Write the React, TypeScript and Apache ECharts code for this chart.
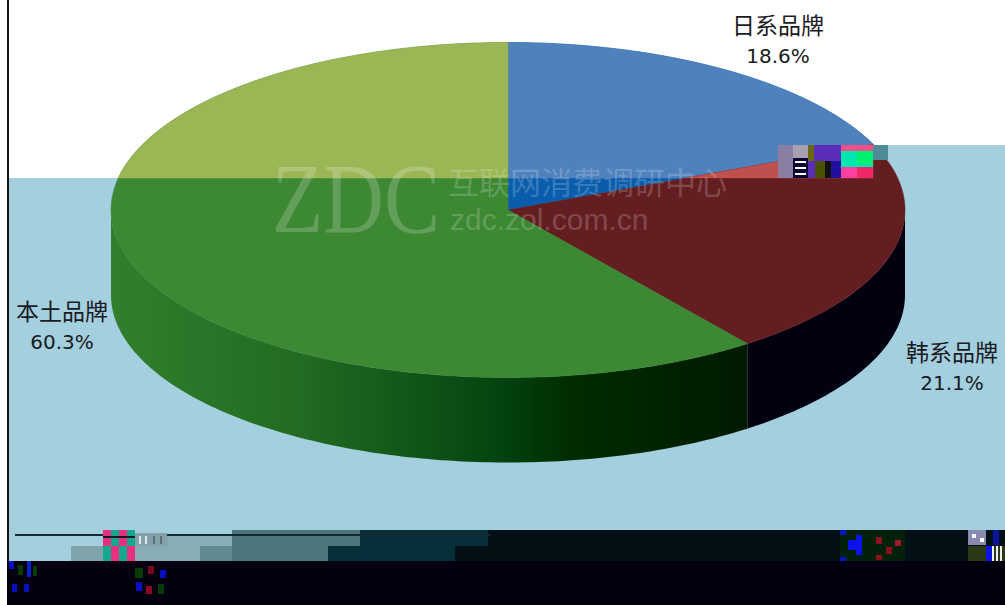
import React, { useEffect, useRef } from "react";
import * as echarts from "echarts";

const categories = ["日系品牌", "韩系品牌", "本土品牌"];
const shares = [18.6, 21.1, 60.3];
const lightColors = ["#4f81bd", "#c0504d", "#9bb655"];
const darkColors = ["#0a5cac", "#641e22", "#3c8833"];

const labelCentres = [[778, 24], [952, 351], [62, 310]];
const CX = 508, CY = 210, RX = 397, RY = 167.5, DEPTH = 85;
const BAND_Y = 178, BAND_X = 873;

const GREEN_WALL = [
  [0, "#317f2d"], [0.3, "#226b22"], [0.5, "#0f5216"], [0.62, "#03420f"], [0.72, "#002c00"], [1, "#001a00"],
];
const RED_WALL = "#03000f";

type P = [number, number];
const clip = (pts: P[], inside: (p: P) => boolean, cross: (a: P, b: P) => P): P[] => {
  const out: P[] = [];
  pts.forEach((p, i) => {
    const q = pts[(i + 1) % pts.length];
    const a = inside(p), b = inside(q);
    if (a) out.push(p);
    if (a !== b) out.push(cross(p, q));
  });
  return out;
};
const clipY = (pts: P[], y: number) =>
  clip(pts, (p) => p[1] <= y, (a, b) => [a[0] + ((y - a[1]) / (b[1] - a[1])) * (b[0] - a[0]), y]);
const clipX = (pts: P[], x: number) =>
  clip(pts, (p) => p[0] <= x, (a, b) => [x, a[1] + ((x - a[0]) / (b[0] - a[0])) * (b[1] - a[1])]);

const onEllipse = (deg: number, dy = 0): P => {
  const r = (deg * Math.PI) / 180;
  return [CX + RX * Math.cos(r), CY - RY * Math.sin(r) + dy];
};
const arc = (from: number, to: number, dy = 0): P[] => {
  const n = Math.max(2, Math.ceil(Math.abs(from - to)));
  const pts: P[] = [];
  for (let i = 0; i <= n; i++) pts.push(onEllipse(from + ((to - from) * i) / n, dy));
  return pts;
};

const renderItem = (params: any, api: any) => {
  const i = params.dataIndex;
  const total = shares.reduce((a, b) => a + b, 0);
  const before = shares.slice(0, i).reduce((a, b) => a + b, 0);
  const start = 90 - (before / total) * 360;
  const end = 90 - ((before + api.value(0)) / total) * 360;
  const children: any[] = [];

  const wFrom = Math.min(start, 0), wTo = Math.max(end, -180);
  if (wFrom > wTo) {
    const fill = i === 2
      ? new echarts.graphic.LinearGradient(CX - RX, 0, onEllipse(start)[0], 0,
          GREEN_WALL.map(([offset, color]) => ({ offset: offset as number, color: color as string })), true)
      : RED_WALL;
    children.push({
      type: "polygon",
      shape: { points: [...arc(wFrom, wTo), ...arc(wTo, wFrom, DEPTH)] },
      style: { fill },
    });
  }
  const face: P[] = [[CX, CY], ...arc(start, end)];
  children.push({
    type: "polygon",
    shape: { points: face },
    style: { fill: darkColors[i], stroke: darkColors[i], lineWidth: 0.5 },
  });
  const upper = clipX(clipY(face, BAND_Y), BAND_X);
  if (upper.length > 2) {
    children.push({
      type: "polygon",
      shape: { points: upper },
      style: { fill: lightColors[i], stroke: lightColors[i], lineWidth: 0.5 },
    });
  }
  const [lx, ly] = labelCentres[i];
  children.push({
    type: "text", z2: 50,
    style: { text: categories[i], x: lx, y: ly, align: "center", verticalAlign: "middle", fill: "#1a1a22", font: '23px "Noto Sans CJK SC"' },
  });
  children.push({
    type: "text", z2: 50,
    style: { text: api.value(0).toFixed(1) + "%", x: lx, y: ly + 32, align: "center", verticalAlign: "middle", fill: "#1a1a22", font: '20px "DejaVu Sans"' },
  });
  return { type: "group", children };
};

// [x, y, w, h, colour]: flat bands and scan-damage blocks of the picture
const backdrop: [number, number, number, number, string][] = [
  [9, 178, 996, 352, "#a4cfde"],
  [888, 145, 117, 33, "#a4cfde"],
  [9, 530, 996, 31, "#a4cfde"],
  [7, 0, 2, 561, "#141414"],
  [7, 561, 998, 44, "#04000f"],
  [71, 546, 40, 15, "#7fa4ac"],
  [135, 534, 97, 27, "#87adb6"],
  [200, 546, 32, 15, "#5f8a90"],
  [232, 530, 128, 31, "#4c767b"],
  [328, 546, 127, 15, "#05303a"],
  [360, 530, 128, 16, "#05303a"],
  [455, 546, 550, 15, "#020f15"],
  [488, 530, 517, 16, "#020f15"],
  [15, 534, 475, 2, "#12292f"],
];
const damage: [number, number, number, number, string][] = [
  [778, 145, 15, 33, "#8a7ea2"],
  [793, 145, 15, 13, "#a8a0b0"],
  [793, 158, 15, 20, "#0a0830"],
  [795, 161, 11, 2, "#ffffff"],
  [795, 167, 11, 2, "#ffffff"],
  [795, 173, 11, 2, "#ffffff"],
  [808, 145, 33, 33, "#5a2eb8"],
  [808, 145, 6, 16, "#6b6a10"],
  [815, 161, 10, 17, "#4a5200"],
  [825, 161, 6, 17, "#101010"],
  [831, 161, 10, 17, "#2010a0"],
  [841, 145, 32, 33, "#00e8b0"],
  [841, 145, 32, 6, "#f0508a"],
  [857, 151, 16, 13, "#00f070"],
  [841, 167, 16, 11, "#ff3fa0"],
  [857, 167, 16, 11, "#f02868"],
  [873, 145, 15, 15, "#4f8a98"],
  // lower left
  [103, 530, 32, 31, "#14a890"],
  [103, 530, 8, 16, "#e8307f"],
  [119, 530, 8, 16, "#e8307f"],
  [111, 546, 8, 15, "#e8307f"],
  [127, 546, 8, 15, "#e8307f"],
  [103, 536, 32, 2, "#101820"],
  [135, 533, 32, 13, "#84a0a8"],
  [139, 536, 2, 8, "#dfe8ea"],
  [145, 536, 2, 8, "#dfe8ea"],
  [153, 536, 2, 8, "#586f78"],
  [160, 536, 2, 8, "#586f78"],
  [9, 561, 5, 8, "#0810c0"],
  [18, 565, 5, 10, "#083a08"],
  [27, 561, 4, 16, "#0820d0"],
  [33, 566, 4, 10, "#063a08"],
  [12, 584, 5, 8, "#0810c0"],
  [24, 584, 5, 8, "#0810c0"],
  [135, 568, 8, 10, "#063c08"],
  [148, 566, 6, 8, "#7a0820"],
  [160, 570, 6, 8, "#0810c0"],
  [136, 582, 6, 9, "#0810c0"],
  [146, 586, 6, 8, "#8a0a20"],
  [158, 584, 6, 10, "#063a08"],
  // lower right
  [840, 530, 65, 31, "#02200a"],
  [848, 540, 14, 10, "#0a14e8"],
  [856, 535, 6, 20, "#0a14e8"],
  [840, 530, 6, 5, "#0a14c0"],
  [840, 557, 6, 4, "#0a14c0"],
  [876, 537, 6, 7, "#8a1020"],
  [886, 547, 6, 7, "#8a1020"],
  [895, 540, 6, 6, "#a01828"],
  [876, 555, 6, 5, "#8a1020"],
  [968, 530, 18, 15, "#8a8ab0"],
  [972, 534, 4, 4, "#ffffff"],
  [980, 538, 4, 4, "#ffffff"],
  [993, 530, 6, 15, "#0a14a0"],
  [968, 546, 37, 15, "#2a3a18"],
  [986, 546, 6, 15, "#0a14e8"],
  [992, 546, 2, 15, "#f0f0f0"],
  [996, 546, 2, 15, "#f0f0f0"],
  [1000, 546, 2, 15, "#f0f0f0"],
];

const blocks = (list: typeof backdrop, z: number) =>
  list.map(([x, y, width, height, fill]) => ({ type: "rect", z, silent: true, shape: { x, y, width, height }, style: { fill } }));

const WATERMARK = "rgba(255,255,255,0.2)";
const watermark = [
  { type: "text", z: 60, x: 272, y: 148, scaleX: 0.84, style: { text: "ZDC", fill: WATERMARK, font: '100px "Liberation Serif"' } },
  { type: "text", z: 60, x: 448, y: 165, style: { text: "互联网消费调研中心", fill: WATERMARK, font: '31px "Noto Sans CJK SC"' } },
  { type: "text", z: 60, x: 450, y: 204, style: { text: "zdc.zol.com.cn", fill: WATERMARK, font: '30px "Liberation Sans"' } },
];

export default function App() {
  const ref = useRef<HTMLDivElement>(null);
  useEffect(() => {
    const chart = echarts.init(ref.current!, undefined, { renderer: "svg" });
    chart.setOption({
      animation: false,
      backgroundColor: "#ffffff",
      graphic: { elements: [...blocks(backdrop, -10), ...watermark, ...blocks(damage, 70)] },
      series: [
        {
          type: "custom",
          coordinateSystem: "none",
          silent: true,
          z: 2,
          renderItem,
          data: categories.map((name, i) => ({ name, value: [shares[i]] })),
        },
      ],
    });
    return () => chart.dispose();
  }, []);
  return <div ref={ref} style={{ position: "absolute", left: 0, top: 0, width: 1005, height: 605 }} />;
}
